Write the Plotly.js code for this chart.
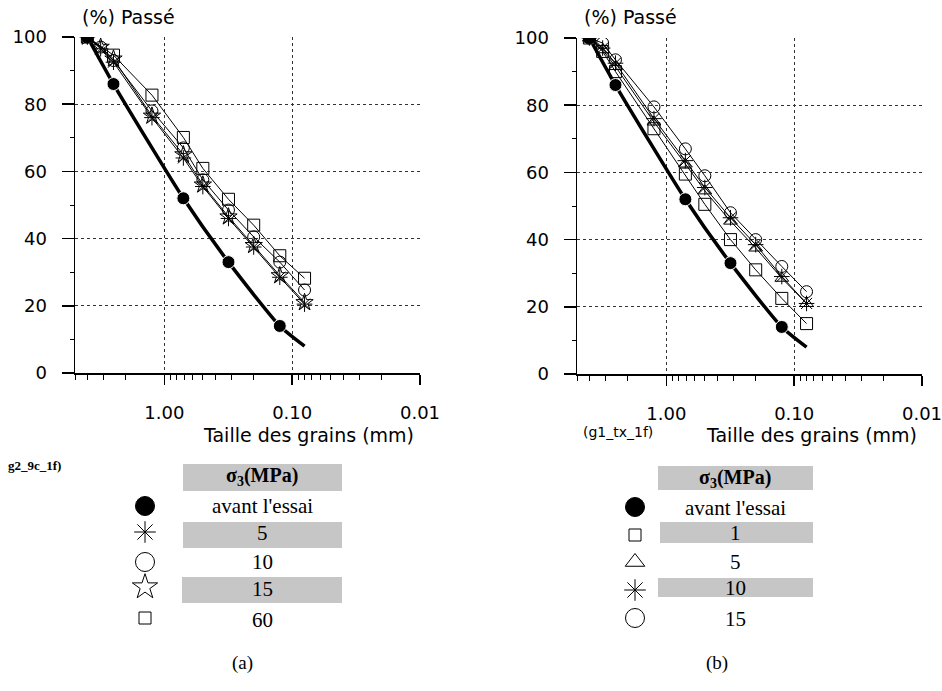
<!DOCTYPE html>
<html>
<head>
<meta charset="utf-8">
<script src="https://cdn.plot.ly/plotly-3.0.1.min.js"></script>
<style>html,body{margin:0;padding:0;background:#fff;}#chart{width:942px;height:691px;}</style>
</head>
<body>
<div id="chart"></div>
<script>
// ---- data ----
var sieves = [4, 3.15, 2.5, 1.25, 0.71, 0.5, 0.315, 0.2, 0.125, 0.08];
var sievesBlack = [4, 2.5, 0.71, 0.315, 0.125, 0.08];
var passBlack = [100, 86, 52, 33, 14, 8];

// (a) left panel
var sievesA60 = [4, 2.5, 1.25, 0.71, 0.5, 0.315, 0.2, 0.125, 0.08];
var passA5  = [100, 96.5, 92.5, 76, 64, 55.5, 46, 37.5, 28.5, 20.5];
var passA10 = [100, 97, 93, 78, 67, 57.5, 48.5, 40.5, 33, 24.7];
var passA15 = [100, 97, 93.5, 76.5, 65, 56, 46.5, 38, 29, 21];
var passA60 = [100, 94.6, 82.7, 70.1, 60.9, 51.7, 44, 34.9, 28.2];

// (b) right panel
var passB1  = [100, 96, 90, 73, 59.5, 50.5, 40, 31, 22.5, 15];
var passB5  = [100, 96.5, 91.5, 75, 62.5, 54.5, 45.5, 37.5, 28.5, 21];
var passB10 = [100, 97, 92.5, 76, 63.5, 55.5, 46.5, 38.5, 29, 21];
var passB15 = [100, 98.5, 93.5, 79.5, 67, 59, 48, 40, 32, 24.5];

var legendA = ['avant l\'essai', '5', '10', '15', '60'];
var legendB = ['avant l\'essai', '1', '5', '10', '15'];
var legendHeader = 'σ<sub>3</sub>(MPa)';
var yTitle = '(%) Passé';
var xTitle = 'Taille des grains (mm)';

// ---- layout helpers ----
var W = 942, H = 691;
function px(x){return x / W;}
function py(y){return 1 - y / H;}

var sansFont = 'DejaVu Sans, Arial, sans-serif';
var serifFont = 'Liberation Serif, Times New Roman, serif';

function blackTrace(xa, ya){
  return {x: sievesBlack, y: passBlack, xaxis: xa, yaxis: ya, mode: 'lines+markers',
    line: {color: '#000', width: 3.5, shape: 'spline', smoothing: 0.6},
    marker: {symbol: 'circle', size: [13,13,13,13,13,0], color: '#000', opacity: 1}, showlegend: false, hoverinfo: 'skip'};
}
function thinTrace(xs, ys, sym, size, xa, ya){
  return {x: xs, y: ys, xaxis: xa, yaxis: ya, mode: 'lines+markers',
    line: {color: '#000', width: 1},
    marker: {symbol: sym, size: size, color: '#000', opacity: 1, line: {color: '#000', width: 1}}, showlegend: false, hoverinfo: 'skip'};
}

var traces = [
  blackTrace('x', 'y'),
  thinTrace(sievesA60, passA60, 'square-open', 12, 'x', 'y'),
  thinTrace(sieves, passA10, 'circle-open', 12, 'x', 'y'),
  thinTrace(sieves, passA15, 'star-open', 13, 'x', 'y'),
  thinTrace(sieves, passA5, 'asterisk-open', 13, 'x', 'y'),
  blackTrace('x2', 'y2'),
  thinTrace(sieves, passB1, 'square-open', 12, 'x2', 'y2'),
  thinTrace(sieves, passB15, 'circle-open', 12, 'x2', 'y2'),
  thinTrace(sieves, passB5, 'triangle-up-open', 12, 'x2', 'y2'),
  thinTrace(sieves, passB10, 'asterisk-open', 13, 'x2', 'y2')
];

// legend symbols drawn on a hidden pixel-coordinate axis pair
var legSymA = ['circle', 'asterisk-open', 'circle-open', 'star-open', 'square-open'];
var legSymB = ['circle', 'square-open', 'triangle-up-open', 'asterisk-open', 'circle-open'];
var legSizeA = [19, 18, 19, 19, 12];
var legSizeB = [19, 12, 17, 18, 19];
var legYA = [506, 532, 562, 587, 618];
var legYB = [507, 535, 562, 590, 618];
traces.push({x: legYA.map(function(){return 145;}), y: legYA, xaxis: 'x3', yaxis: 'y3', mode: 'markers',
  marker: {symbol: legSymA, size: legSizeA, color: '#000', opacity: 1, line: {color: '#000', width: 1}}, showlegend: false, hoverinfo: 'skip'});
traces.push({x: legYB.map(function(){return 635;}), y: legYB, xaxis: 'x3', yaxis: 'y3', mode: 'markers',
  marker: {symbol: legSymB, size: legSizeB, color: '#000', opacity: 1, line: {color: '#000', width: 1}}, showlegend: false, hoverinfo: 'skip'});

function xAx(domain){
  return {type: 'log', range: [Math.log10(5), -2], domain: domain, dtick: 1, tickformat: '.2f',
    ticks: 'outside', ticklen: 10, tickwidth: 1.5, tickcolor: '#000',
    ticklabelstandoff: 13, ticklabeloverflow: 'allow',
    tickfont: {family: sansFont, size: 18, color: '#000'},
    showgrid: true, griddash: 'dot', gridcolor: '#333', gridwidth: 1,
    showline: true, linecolor: '#000', linewidth: 1.5, zeroline: false,
    minor: {dtick: 'D1', ticks: 'outside', ticklen: 5, tickcolor: '#000', tickwidth: 1, showgrid: false},
    fixedrange: true};
}
function yAx(domain, anchor){
  return {range: [0, 100], domain: domain, anchor: anchor, dtick: 20,
    ticks: 'outside', ticklen: 12, tickwidth: 1.5, tickcolor: '#000',
    ticklabelstandoff: 11, ticklabeloverflow: 'allow',
    tickfont: {family: sansFont, size: 18, color: '#000'},
    showgrid: true, griddash: 'dot', gridcolor: '#333', gridwidth: 1,
    showline: true, linecolor: '#000', linewidth: 1.5, zeroline: false,
    minor: {dtick: 10, ticks: 'outside', ticklen: 4, tickcolor: '#000', tickwidth: 1, showgrid: false},
    fixedrange: true};
}

var xa = xAx([px(75), px(420)]); xa.anchor = 'y';
var xb = xAx([px(577), px(922)]); xb.anchor = 'y2';

var shapes = [];
function box(x0, x1, y0, y1){
  shapes.push({type: 'rect', xref: 'paper', yref: 'paper', x0: px(x0), x1: px(x1), y0: py(y1), y1: py(y0),
    fillcolor: '#c6c6c6', line: {width: 0}, layer: 'below'});
}
box(183, 342, 464, 491); box(183, 342, 522, 548); box(182, 342, 577, 603);
box(658, 813, 466, 490); box(660, 813, 522, 543); box(658, 813, 578, 597);

var annotations = [];
function txt(t, x, y, font, size, anchor){
  annotations.push({text: t, xref: 'paper', yref: 'paper', x: px(x), y: py(y), xanchor: anchor || 'center', yanchor: 'middle',
    showarrow: false, font: {family: font, size: size, color: '#000'}});
}
txt(yTitle, 80, 17, sansFont, 19, 'left');
txt(yTitle, 582, 17, sansFont, 19, 'left');
txt(xTitle, 308, 435, sansFont, 19, 'center');
txt(xTitle, 811, 435, sansFont, 19, 'center');
txt('<b>g2_9c_1f)</b>', 6, 465, serifFont, 13, 'left');
txt('(g1_tx_1f)', 618, 432, sansFont, 14, 'center');
txt('<b>' + legendHeader + '</b>', 262, 477, serifFont, 20, 'center');
txt('<b>' + legendHeader + '</b>', 735, 478, serifFont, 20, 'center');
var rowYA = [506, 533, 562, 589, 620];
var rowYB = [508, 533, 562, 588, 619];
legendA.forEach(function(t, i){ txt(t, 262, rowYA[i], serifFont, 21, 'center'); });
legendB.forEach(function(t, i){ txt(t, 735, rowYB[i], serifFont, 21, 'center'); });
txt('(a)', 242, 663, serifFont, 19, 'center');
txt('(b)', 717, 663, serifFont, 19, 'center');

var layout = {
  width: W, height: H, margin: {l: 0, r: 0, t: 0, b: 0},
  paper_bgcolor: '#fff', plot_bgcolor: 'rgba(0,0,0,0)', showlegend: false,
  xaxis: xa,
  yaxis: yAx([py(373), py(37)], 'x'),
  xaxis2: xb,
  yaxis2: yAx([py(374), py(38)], 'x2'),
  xaxis3: {domain: [0, 1], range: [0, W], visible: false, anchor: 'y3', fixedrange: true},
  yaxis3: {domain: [0, 1], range: [H, 0], visible: false, anchor: 'x3', fixedrange: true},
  shapes: shapes,
  annotations: annotations
};

Plotly.newPlot('chart', traces, layout, {staticPlot: true, displayModeBar: false});
</script>
</body>
</html>
